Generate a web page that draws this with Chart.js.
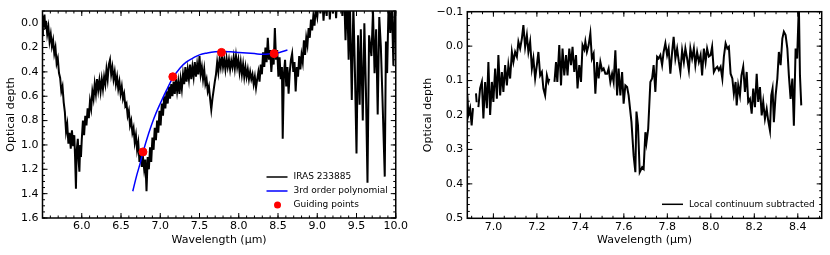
<!DOCTYPE html>
<html>
<head>
<meta charset="utf-8">
<script src="https://cdn.jsdelivr.net/npm/chart.js@4.4.0/dist/chart.umd.min.js"></script>
<style>
    html, body { margin: 0; padding: 0; background: #fff; }
    #wrap { position: relative; width: 830px; height: 255px; }
    canvas { position: absolute; top: 0; }
    #leftChart { left: 0; }
    #rightChart { left: 415px; }
</style>
</head>
<body>
<div id="wrap">
    <canvas id="leftChart" width="410" height="255"></canvas>
    <canvas id="rightChart" width="415" height="255"></canvas>
</div>
<script>
// ---- Left panel: IRAS spectrum, polynomial continuum, guiding points ----
const irasWavelength = [
    5.500, 5.505, 5.515, 5.525, 5.535, 5.545, 5.560, 5.575, 5.590, 5.605,
    5.620, 5.635, 5.650, 5.665, 5.680, 5.695, 5.710, 5.725, 5.740, 5.755,
    5.770, 5.785, 5.800, 5.815, 5.830, 5.845, 5.860, 5.875, 5.890, 5.905,
    5.915, 5.926, 5.935, 5.950, 5.960, 5.970, 5.980, 5.990, 6.000, 6.015,
    6.030, 6.045, 6.060, 6.075, 6.090, 6.105, 6.120, 6.135, 6.150, 6.165,
    6.180, 6.195, 6.210, 6.225, 6.240, 6.255, 6.270, 6.285, 6.300, 6.315,
    6.330, 6.345, 6.360, 6.375, 6.390, 6.405, 6.420, 6.435, 6.450, 6.465,
    6.480, 6.495, 6.510, 6.525, 6.540, 6.555, 6.570, 6.585, 6.600, 6.615,
    6.630, 6.645, 6.660, 6.675, 6.690, 6.705, 6.720, 6.735, 6.750, 6.765,
    6.780, 6.795, 6.810, 6.825, 6.840, 6.855, 6.870, 6.885, 6.900, 6.915,
    6.930, 6.945, 6.960, 6.975, 6.990, 7.005, 7.020, 7.035, 7.050, 7.065,
    7.080, 7.095, 7.110, 7.125, 7.140, 7.155, 7.170, 7.185, 7.200, 7.215,
    7.230, 7.245, 7.260, 7.275, 7.290, 7.305, 7.320, 7.335, 7.350, 7.365,
    7.380, 7.395, 7.410, 7.425, 7.440, 7.455, 7.470, 7.485, 7.500, 7.515,
    7.530, 7.545, 7.560, 7.575, 7.590, 7.605, 7.620, 7.635, 7.650, 7.665,
    7.680, 7.695, 7.710, 7.725, 7.740, 7.755, 7.770, 7.785, 7.800, 7.815,
    7.830, 7.845, 7.860, 7.875, 7.890, 7.905, 7.920, 7.935, 7.950, 7.965,
    7.980, 7.995, 8.010, 8.025, 8.040, 8.055, 8.070, 8.085, 8.100, 8.115,
    8.130, 8.145, 8.160, 8.175, 8.190, 8.205, 8.220, 8.235, 8.250, 8.265,
    8.280, 8.295, 8.310, 8.325, 8.340, 8.355, 8.370, 8.385, 8.400, 8.415,
    8.430, 8.445, 8.460, 8.475, 8.490, 8.505, 8.520, 8.535, 8.550, 8.560,
    8.575, 8.590, 8.605, 8.620, 8.635, 8.650, 8.665, 8.680, 8.695, 8.710,
    8.725, 8.740, 8.755, 8.770, 8.785, 8.800, 8.815, 8.830, 8.845, 8.860,
    8.875, 8.890, 8.905, 8.920, 8.935, 8.950, 8.965, 8.980, 9.000, 9.020,
    9.040, 9.060, 9.080, 9.100, 9.120, 9.140, 9.160, 9.180, 9.200, 9.220,
    9.240, 9.260, 9.280, 9.300, 9.320, 9.340, 9.360, 9.380, 9.400, 9.415,
    9.440, 9.460, 9.480, 9.500, 9.520, 9.540, 9.555, 9.580, 9.600, 9.620,
    9.640, 9.660, 9.690, 9.710, 9.730, 9.750, 9.770, 9.790, 9.810, 9.830,
    9.860, 9.875, 9.890, 9.910, 9.930, 9.950, 9.970, 9.985, 10.000
];
const irasDepth = [
    0.10, -0.06, 0.03, -0.07, 0.05, -0.02, 0.09, 0.03, 0.15, 0.09,
    0.19, 0.14, 0.25, 0.20, 0.33, 0.29, 0.41, 0.45, 0.56, 0.52,
    0.65, 0.73, 0.89, 0.83, 0.99, 0.90, 1.03, 0.88, 1.01, 0.92,
    1.10, 1.36, 1.05, 0.95, 1.13, 1.22, 1.00, 1.10, 0.96, 0.80,
    0.92, 0.76, 0.84, 0.70, 0.78, 0.64, 0.70, 0.56, 0.62, 0.50,
    0.58, 0.46, 0.55, 0.47, 0.56, 0.46, 0.54, 0.44, 0.50, 0.38,
    0.46, 0.34, 0.30, 0.42, 0.36, 0.46, 0.40, 0.50, 0.44, 0.54,
    0.48, 0.58, 0.52, 0.62, 0.58, 0.68, 0.66, 0.76, 0.72, 0.84,
    0.80, 0.90, 0.86, 0.98, 0.92, 1.04, 0.98, 1.14, 1.04, 1.18,
    1.10, 1.20, 1.12, 1.38, 1.10, 1.20, 1.02, 1.14, 0.94, 1.04,
    0.86, 0.96, 0.80, 0.90, 0.72, 0.84, 0.66, 0.76, 0.60, 0.70,
    0.56, 0.66, 0.52, 0.62, 0.50, 0.60, 0.48, 0.58, 0.46, 0.56,
    0.48, 0.58, 0.46, 0.54, 0.42, 0.50, 0.36, 0.48, 0.38, 0.46,
    0.34, 0.46, 0.36, 0.44, 0.32, 0.44, 0.34, 0.42, 0.27, 0.42,
    0.36, 0.46, 0.38, 0.50, 0.46, 0.56, 0.52, 0.62, 0.71, 0.62,
    0.55, 0.48, 0.42, 0.32, 0.40, 0.30, 0.36, 0.26, 0.36, 0.30,
    0.38, 0.29, 0.36, 0.30, 0.38, 0.31, 0.36, 0.28, 0.37, 0.27,
    0.36, 0.30, 0.40, 0.32, 0.42, 0.34, 0.44, 0.36, 0.44, 0.38,
    0.46, 0.40, 0.46, 0.42, 0.50, 0.44, 0.53, 0.46, 0.40, 0.48,
    0.34, 0.42, 0.24, 0.36, 0.20, 0.32, 0.12, 0.30, 0.22, 0.40,
    0.26, 0.34, 0.04, 0.30, 0.22, 0.44, 0.28, 0.46, 0.36, 0.95,
    0.42, 0.30, 0.52, 0.36, 0.58, 0.40, 0.30, 0.25, 0.40, 0.32,
    0.56, 0.36, 0.44, 0.27, 0.38, 0.26, 0.32, 0.14, 0.26, 0.12,
    0.18, 0.04, 0.12, -0.03, 0.06, -0.06, 0.02, -0.12, -0.05, -0.20,
    -0.08, -0.25, -0.02, -0.22, -0.06, -0.30, -0.03, -0.25, -0.08, -0.30,
    -0.04, -0.28, -0.20, -0.30, -0.06, -0.30, 0.14, -0.25, 0.30, -0.20,
    0.63, -0.15, 0.40, 1.07, 0.10, 0.67, 0.05, 0.80, 0.00, 0.55,
    1.31, 0.10, 0.27, -0.10, 0.41, 0.05, 0.75, -0.05, 0.19, 0.60,
    1.26, 0.15, 0.41, -0.20, 0.08, -0.15, 0.35, -0.10, 0.00
];

const polyWavelength = [6.65, 6.70, 6.74, 6.78, 6.85, 6.92, 7.00, 7.08, 7.16, 7.25, 7.33, 7.42, 7.50,
    7.60, 7.70, 7.78, 7.90, 8.00, 8.10, 8.20, 8.30, 8.40, 8.46, 8.52, 8.58, 8.62];
const polyDepth = [1.38, 1.25, 1.16, 1.06, 0.91, 0.78, 0.66, 0.55, 0.45, 0.37, 0.32, 0.285, 0.26,
    0.245, 0.235, 0.232, 0.235, 0.24, 0.245, 0.25, 0.255, 0.252, 0.248, 0.24, 0.228, 0.22];

const guideWavelength = [6.78, 7.16, 7.78, 8.45];
const guideDepth = [1.057, 0.44, 0.24, 0.25];

const leftXTicks = [6.0, 6.5, 7.0, 7.5, 8.0, 8.5, 9.0, 9.5, 10.0];
const leftYTicks = [0.0, 0.2, 0.4, 0.6, 0.8, 1.0, 1.2, 1.4, 1.6];

// ---- Right panel: local continuum subtracted (null = gap in the data) ----
const localWavelength = [
    6.880, 6.885, 6.893, 6.900, 6.906, 6.913, 6.920, 6.923, 6.927, 6.931,
    6.939, 6.947, 6.954, 6.962, 6.970, 6.977, 6.985, 6.993, 7.000, 7.008,
    7.016, 7.023, 7.031, 7.039, 7.046, 7.054, 7.062, 7.069, 7.077, 7.085,
    7.092, 7.100, 7.108, 7.115, 7.123, 7.131, 7.138, 7.146, 7.154, 7.161,
    7.169, 7.177, 7.184, 7.192, 7.200, 7.207, 7.215, 7.223, 7.230, 7.238,
    7.246, 7.253, 7.257, 7.270, 7.281, 7.288, 7.294, 7.303, 7.311, 7.318,
    7.326, 7.334, 7.341, 7.349, 7.357, 7.364, 7.372, 7.380, 7.387, 7.395,
    7.403, 7.410, 7.418, 7.423, 7.430, 7.438, 7.446, 7.453, 7.461, 7.469,
    7.477, 7.484, 7.492, 7.500, 7.507, 7.515, 7.523, 7.530, 7.538, 7.546,
    7.553, 7.561, 7.569, 7.576, 7.584, 7.592, 7.599, 7.607, 7.615, 7.622,
    7.635, 7.645, 7.653, 7.658, 7.665, 7.673, 7.684, 7.691, 7.699, 7.704,
    7.712, 7.722, 7.730, 7.737, 7.745, 7.753, 7.760, 7.768, 7.776, 7.783,
    7.791, 7.799, 7.806, 7.814, 7.822, 7.829, 7.837, 7.845, 7.853, 7.860,
    7.868, 7.876, 7.883, 7.891, 7.899, 7.906, 7.914, 7.922, 7.929, 7.937,
    7.945, 7.953, 7.960, 7.968, 7.976, 7.983, 7.991, 7.999, 8.006, 8.014,
    8.022, 8.030, 8.037, 8.045, 8.053, 8.060, 8.068, 8.076, 8.083, 8.091,
    8.099, 8.106, 8.114, 8.119, 8.126, 8.134, 8.141, 8.149, 8.157, 8.165,
    8.172, 8.180, 8.188, 8.195, 8.203, 8.211, 8.218, 8.226, 8.234, 8.241,
    8.249, 8.257, 8.264, 8.272, 8.278, 8.284, 8.290, 8.298, 8.306, 8.313,
    8.321, 8.329, 8.336, 8.344, 8.352, 8.359, 8.367, 8.375, 8.382, 8.390,
    8.397, 8.405, 8.410, 8.416
];
const localDepth = [
    0.140, 0.200, 0.180, 0.230, 0.180, null, 0.137, 0.163, null, 0.177,
    0.122, 0.104, 0.210, 0.104, 0.180, 0.046, 0.200, 0.104, 0.162, 0.065,
    0.153, 0.026, 0.143, 0.075, 0.133, 0.055, 0.114, 0.055, 0.094, 0.017,
    0.046, 0.017, 0.031, -0.013, 0.007, -0.022, -0.061, 0.002, -0.032, 0.017,
    -0.013, 0.065, 0.036, 0.094, 0.055, 0.017, 0.085, 0.075, 0.123, 0.143,
    0.085, 0.104, 0.095, null, 0.104, 0.046, 0.104, -0.003, 0.114, 0.007,
    0.085, 0.026, 0.085, 0.007, 0.055, 0.002, 0.075, 0.026, 0.123, 0.055,
    0.104, -0.003, 0.010, -0.013, 0.017, -0.003, -0.037, 0.036, 0.022, 0.138,
    0.046, 0.094, 0.046, 0.070, 0.065, 0.080, 0.080, 0.065, 0.104, 0.080,
    0.104, 0.012, 0.143, 0.065, 0.143, 0.075, 0.167, 0.114, 0.119, 0.143,
    0.220, 0.318, 0.366, 0.190, 0.230, 0.366, 0.352, 0.357, 0.250, 0.280,
    0.240, 0.104, 0.094, 0.055, 0.133, 0.031, 0.036, 0.026, 0.055, 0.017,
    -0.008, 0.026, 0.007, 0.080, 0.017, -0.027, 0.036, 0.007, 0.046, 0.075,
    0.012, 0.046, 0.007, 0.036, 0.070, 0.007, 0.036, 0.007, 0.055, 0.017,
    0.046, 0.026, 0.085, 0.007, 0.046, 0.007, 0.030, 0.026, 0.002, 0.075,
    0.065, 0.060, 0.070, 0.060, 0.094, 0.031, -0.008, 0.007, 0.002, 0.080,
    0.094, 0.138, 0.104, 0.172, 0.114, 0.143, 0.085, 0.060, 0.133, 0.075,
    0.162, 0.153, 0.196, 0.123, 0.177, 0.080, 0.162, 0.119, 0.201, 0.162,
    0.211, 0.182, 0.216, 0.245, 0.143, 0.123, 0.221, 0.143, 0.094, 0.017,
    0.055, -0.022, -0.042, -0.032, 0.007, 0.085, 0.153, 0.094, 0.231, 0.007,
    0.036, -0.120, 0.085, 0.172
];

const rightXTicks = [7.0, 7.2, 7.4, 7.6, 7.8, 8.0, 8.2, 8.4];
const rightYTicks = [-0.1, 0.0, 0.1, 0.2, 0.3, 0.4, 0.5];

const FONT = 'DejaVu Sans';

function toPoints(xs, ys) {
    return xs.map((x, i) => ({ x: x, y: ys[i] }));
}

function range(start, end, step) {
    const out = [];
    const n = Math.round((end - start) / step);
    for (let i = 0; i <= n; i++) out.push(start + i * step);
    return out;
}

// Matplotlib-like frame: full box with ticks pointing inwards on all four sides
const frameTicks = {
    id: 'frameTicks',
    afterDatasetsDraw(chart, args, opts) {
        const { ctx, chartArea: a, scales } = chart;
        const xs = scales.x, ys = scales.y;
        ctx.save();
        ctx.strokeStyle = '#000';
        ctx.lineWidth = 1;
        ctx.beginPath();
        const mark = (scale, values, len) => {
            values.forEach(v => {
                const p = scale.getPixelForValue(v);
                if (scale.isHorizontal()) {
                    ctx.moveTo(p, a.bottom); ctx.lineTo(p, a.bottom - len);
                    ctx.moveTo(p, a.top); ctx.lineTo(p, a.top + len);
                } else {
                    ctx.moveTo(a.left, p); ctx.lineTo(a.left + len, p);
                    ctx.moveTo(a.right, p); ctx.lineTo(a.right - len, p);
                }
            });
        };
        mark(xs, opts.xMajor, 5);
        mark(xs, opts.xMinor, 2.5);
        mark(ys, opts.yMajor, 5);
        mark(ys, opts.yMinor, 2.5);
        ctx.stroke();
        ctx.lineWidth = 1.5;
        ctx.strokeRect(a.left, a.top, a.right - a.left, a.bottom - a.top);
        ctx.restore();
    }
};

// Frameless legend in the lower right corner of the plot area
const insideLegend = {
    id: 'insideLegend',
    afterDraw(chart, args, opts) {
        const { ctx, chartArea: a } = chart;
        const items = chart.data.datasets.filter(d => d.label);
        ctx.save();
        ctx.font = '9px "' + FONT + '"';
        const w = Math.max(...items.map(d => ctx.measureText(d.label).width));
        const textX = a.right - opts.right - w;
        items.forEach((d, i) => {
            const yy = a.bottom - opts.bottom - (items.length - 1 - i) * opts.rowHeight;
            if (d.showLine === false) {
                ctx.fillStyle = d.pointBackgroundColor;
                ctx.beginPath();
                ctx.arc(textX - 16, yy, 3.5, 0, Math.PI * 2);
                ctx.fill();
            } else {
                ctx.strokeStyle = d.borderColor;
                ctx.lineWidth = 1.5;
                ctx.beginPath();
                ctx.moveTo(textX - 27, yy);
                ctx.lineTo(textX - 6, yy);
                ctx.stroke();
            }
            ctx.fillStyle = '#000';
            ctx.textBaseline = 'middle';
            ctx.textAlign = 'left';
            ctx.fillText(d.label, textX, yy);
        });
        ctx.restore();
    }
};

function axisFont() {
    return { family: FONT, size: 11 };
}

function xAxis(min, max, ticks, height) {
    return {
        type: 'linear',
        min: min,
        max: max,
        afterBuildTicks: s => { s.ticks = ticks.map(v => ({ value: v })); },
        afterFit: s => { s.height = height; },
        ticks: {
            autoSkip: false,
            maxRotation: 0,
            padding: 2,
            color: '#000',
            font: axisFont(),
            callback: v => v.toFixed(1)
        },
        grid: { display: false, drawTicks: false },
        border: { display: false },
        title: {
            display: true,
            text: 'Wavelength (μm)',
            color: '#000',
            font: axisFont(),
            padding: { top: 0, bottom: 8 }
        }
    };
}

function yAxis(min, max, ticks, width, titlePad) {
    return {
        type: 'linear',
        reverse: true,
        min: min,
        max: max,
        afterBuildTicks: s => { s.ticks = ticks.map(v => ({ value: v })); },
        afterFit: s => { s.width = width; },
        ticks: {
            autoSkip: false,
            padding: 4,
            color: '#000',
            font: axisFont(),
            callback: v => (v < 0 ? '\u2212' + Math.abs(v).toFixed(1) : v.toFixed(1))
        },
        grid: { display: false, drawTicks: false },
        border: { display: false },
        title: {
            display: true,
            text: 'Optical depth',
            color: '#000',
            font: axisFont(),
            padding: { top: titlePad, bottom: 0 }
        }
    };
}

new Chart(document.getElementById('leftChart'), {
    type: 'line',
    data: {
        datasets: [
            {
                label: 'IRAS 233885',
                data: toPoints(irasWavelength, irasDepth),
                borderColor: '#000000',
                borderWidth: 2,
                pointRadius: 0,
                tension: 0,
                order: 3
            },
            {
                label: '3rd order polynomial',
                data: toPoints(polyWavelength, polyDepth),
                borderColor: '#0000ff',
                borderWidth: 1.5,
                pointRadius: 0,
                tension: 0.4,
                order: 2
            },
            {
                label: 'Guiding points',
                data: toPoints(guideWavelength, guideDepth),
                showLine: false,
                pointRadius: 4,
                pointBackgroundColor: '#ff0000',
                pointBorderColor: '#ff0000',
                borderColor: '#ff0000',
                order: 1
            }
        ]
    },
    options: {
        responsive: false,
        animation: false,
        layout: { padding: { top: 11, right: 13.3, left: 0, bottom: 0 } },
        scales: {
            x: xAxis(5.5, 10.0, leftXTicks, 37),
            y: yAxis(-0.1, 1.6, leftYTicks, 42.5, 5)
        },
        plugins: {
            legend: { display: false },
            tooltip: { enabled: false },
            frameTicks: {
                xMajor: leftXTicks, xMinor: range(5.5, 10.0, 0.1),
                yMajor: leftYTicks, yMinor: range(-0.1, 1.6, 0.05)
            },
            insideLegend: { right: 8, bottom: 13, rowHeight: 14 }
        }
    },
    plugins: [frameTicks, insideLegend]
});

new Chart(document.getElementById('rightChart'), {
    type: 'line',
    data: {
        datasets: [
            {
                label: 'Local continuum subtracted',
                data: toPoints(localWavelength, localDepth),
                borderColor: '#000000',
                borderWidth: 2,
                pointRadius: 0,
                tension: 0,
                spanGaps: false
            }
        ]
    },
    options: {
        responsive: false,
        animation: false,
        layout: { padding: { top: 11.7, right: 8.3, left: 0, bottom: 0 } },
        scales: {
            x: xAxis(6.88, 8.51, rightXTicks, 36.7),
            y: yAxis(-0.1, 0.5, rightYTicks, 52.3, 6.7)
        },
        plugins: {
            legend: { display: false },
            tooltip: { enabled: false },
            frameTicks: {
                xMajor: rightXTicks, xMinor: range(6.9, 8.5, 0.05),
                yMajor: rightYTicks, yMinor: range(-0.1, 0.5, 0.02)
            },
            insideLegend: { right: 7, bottom: 14, rowHeight: 14 }
        }
    },
    plugins: [frameTicks, insideLegend]
});
</script>
</body>
</html>
